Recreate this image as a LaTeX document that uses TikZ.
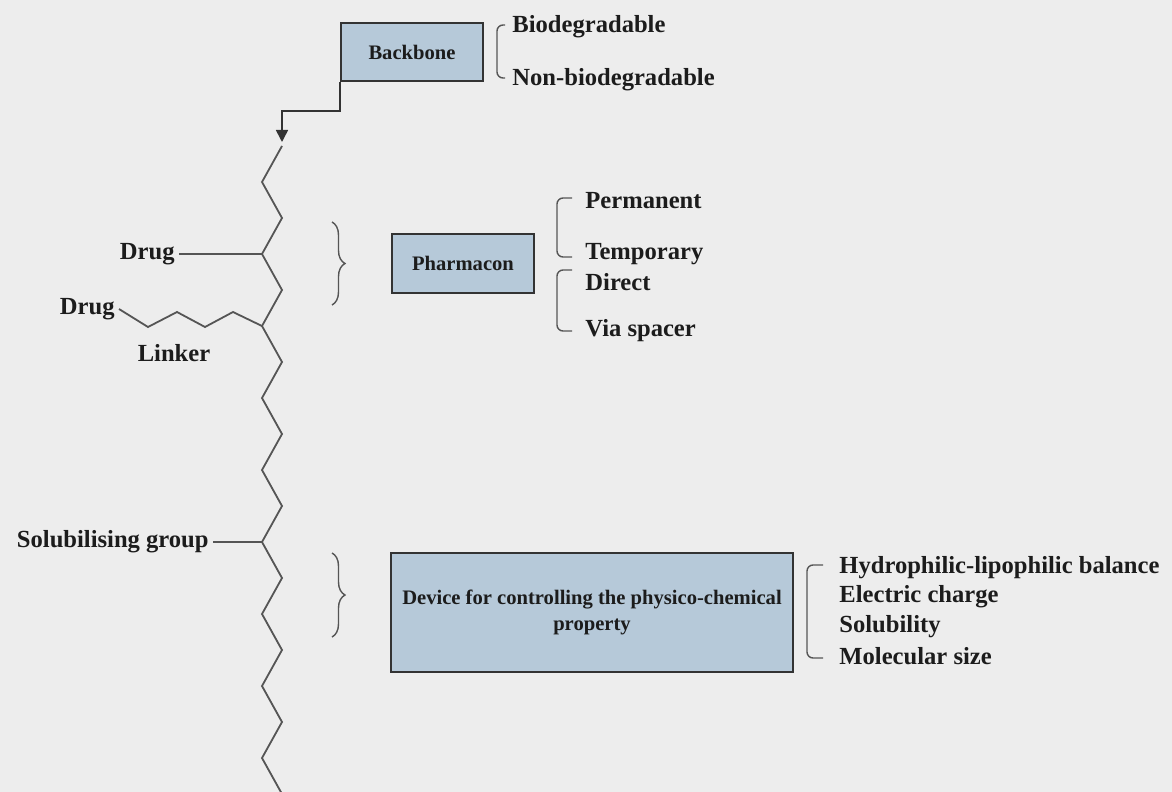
\documentclass[tikz,border=0pt]{standalone}
\usepackage{fontspec}
\setmainfont{Liberation Serif}
\usepackage{tikz}
\usetikzlibrary{arrows.meta,positioning,decorations.pathreplacing}
\definecolor{bgcol}{HTML}{EDEDED}
\definecolor{boxfill}{HTML}{B6C9D9}
\definecolor{boxline}{HTML}{333333}
\definecolor{ink}{HTML}{1C1C1C}
\definecolor{linegray}{HTML}{555555}
\tikzset{
  blk/.style={draw=boxline, line width=.8pt, fill=boxfill, align=center, text=ink, font=\fontsize{10.3}{13}\selectfont\bfseries},
  lbl/.style={text=ink, inner sep=2pt, font=\fontsize{12.3}{14.5}\selectfont\bfseries},
  chain/.style={draw=linegray, line width=.9pt},
  ar/.style={-{Triangle[length=6pt, width=6pt]}, line width=.8pt, draw=boxline},
  brk/.style={draw=linegray, line width=.7pt, rounded corners=3pt},
  brc/.style={draw=linegray, line width=.7pt, decorate, decoration={brace, amplitude=6.5pt}},
}

\begin{document}
\begin{tikzpicture}[x=0.5pt, y=-0.5pt]
    \fill[bgcol] (0,0) rectangle (1172,792);
    \useasboundingbox (0,0) rectangle (1172,792);
    % backbone chain
    \coordinate (top) at (282,146);
    \coordinate (tip) at (282,142);
    \foreach \k in {0,...,8}{
      \coordinate (L\k) at (262,182+72*\k);
      \coordinate (R\k) at (282,218+72*\k);
    }
    \draw[chain] (top) \foreach \k in {0,...,8}{ -- (L\k) -- (R\k)};
    % boxes
    \node[blk, minimum width=71pt, minimum height=29pt] (bb) at (412,52) {Backbone};
    \node[blk, minimum width=71pt, minimum height=29.5pt] (ph) at (463,263.5) {Pharmacon};
    \node[blk, minimum width=201pt, minimum height=59.5pt] (dev) at (592,612.5) {Device for controlling the physico-chemical\\ property};
    \draw[ar] (bb.south west) -- ++(0,29) -| (tip);
    % side groups
    \node[lbl, anchor=east] (drugA) at (179,254) {Drug};
    \draw[chain] (drugA.east) -- (L1);
    \node[lbl, anchor=east] (drugB) at (119,309) {Drug};
    \draw[chain] (L2) -- ++(-29,-14) -- ++(-28,15) -- ++(-28,-15) -- ++(-29,15) -- (drugB.east);
    \node[lbl] (lnk) at (174,353) {Linker};
    \node[lbl, anchor=east] (sol) at (213,542) {Solubilising group};
    \draw[chain] (sol.east) -- (L5);
    % braces
    \draw[brc] (332,222) -- (332,305);
    \draw[brc] (332,553) -- (332,637);
    % option lists
    \draw[brk] (505,25) -- (497,25) -- (497,78) -- (505,78);
    \node[lbl, anchor=west] (bio) at (508,27) {Biodegradable};
    \node[lbl, anchor=west] (nbio) at (508,80) {Non-biodegradable};
    \draw[brk] (572,198) -- (557,198) -- (557,257) -- (572,257);
    \draw[brk] (572,270) -- (557,270) -- (557,331) -- (572,331);
    \node[lbl, anchor=west] (perm) at (581,201) {Permanent};
    \node[lbl, anchor=west] (temp) at (581,254) {Temporary};
    \node[lbl, anchor=west] (dir) at (581,282) {Direct};
    \node[lbl, anchor=west] (via) at (581,331) {Via spacer};
    \draw[brk] (823,565) -- (807,565) -- (807,658) -- (823,658);
    \node[lbl, anchor=west] (hlb) at (835,568) {Hydrophilic-lipophilic balance};
    \node[lbl, anchor=west] (chg) at (835,597) {Electric charge};
    \node[lbl, anchor=west] (solu) at (835,627) {Solubility};
    \node[lbl, anchor=west] (msz) at (835,656) {Molecular size};
\end{tikzpicture}
\end{document}
